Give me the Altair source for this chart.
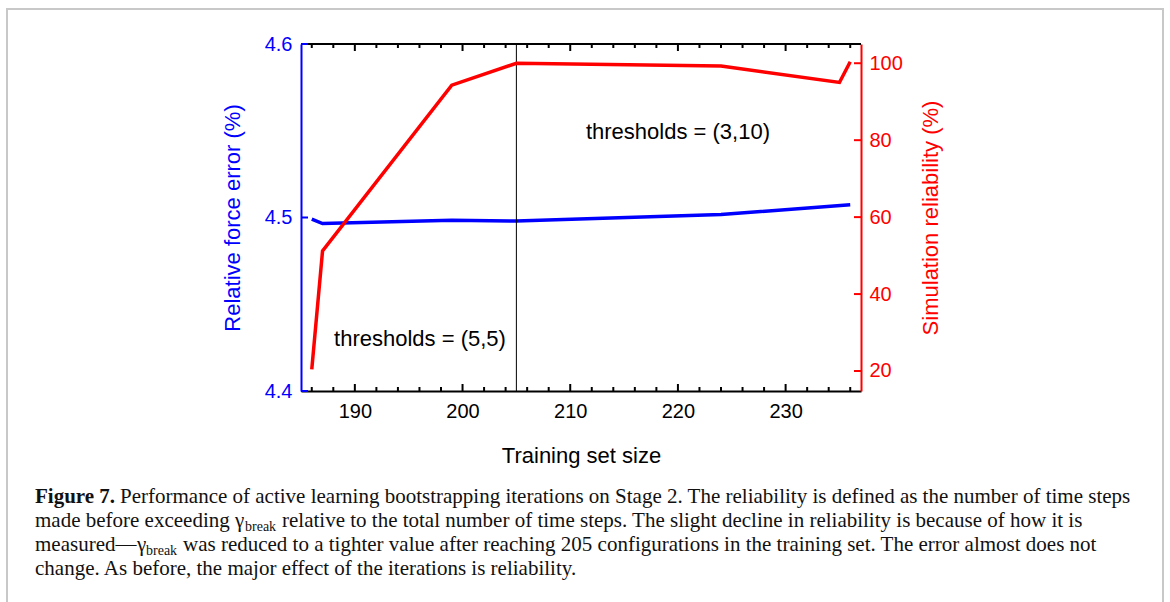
import altair as alt
import pandas as pd

# ---- data ----
train_blue = [186, 187, 199, 205, 224, 236]
force_err = [4.499, 4.4965, 4.4984, 4.498, 4.5017, 4.5073]
train_red = [186, 187, 199, 205, 224, 235, 236]
reliability = [20.4, 51.2, 94.3, 100.0, 99.3, 95.0, 100.4]

x_major = [190, 200, 210, 220, 230]
x_minor = [186, 188, 192, 194, 196, 198, 202, 204, 206, 208, 212, 214, 216, 218,
           222, 224, 226, 228, 232, 234, 236]
left_ticks = [4.4, 4.5, 4.6]
right_ticks = [20, 40, 60, 80, 100]
split_at = [205]

ann_text = ["thresholds = (3,10)", "thresholds = (5,5)"]
ann_x = [220.0, 196.05]
ann_y = [4.549, 4.430]

BLUE = "#0000ff"
RED = "#ff0000"
SANS = "Liberation Sans"
SERIF = "Liberation Serif"

W, H = 560, 347

xs = alt.Scale(domain=[185, 237], nice=False, zero=False)
yl = alt.Scale(domain=[4.4, 4.6], nice=False, zero=False)
yr = alt.Scale(domain=[14.8, 105], nice=False, zero=False)

x_axis = alt.Axis(
    values=x_major, ticks=False, grid=False, domainColor="black", domainWidth=2,
    labelFont=SANS, labelFontSize=20, labelColor="black", labelPadding=10,
    labelFlush=False, title="Training set size", titleFont=SANS, titleFontSize=22,
    titleFontWeight="normal", titleColor="black", titlePadding=24)
yl_axis = alt.Axis(
    values=left_ticks, format=".1f", ticks=False, grid=False, domainColor=BLUE,
    domainWidth=2, labelFont=SANS, labelFontSize=20, labelColor=BLUE, labelPadding=9,
    title="Relative force error (%)", titleFont=SANS, titleFontSize=22,
    titleFontWeight="normal", titleColor=BLUE, titlePadding=20)
yr_axis = alt.Axis(
    orient="right", values=right_ticks, ticks=False, grid=False, domainColor=RED,
    domainWidth=2, labelFont=SANS, labelFontSize=20, labelColor=RED, labelPadding=8,
    title="Simulation reliability (%)", titleFont=SANS, titleFontSize=22,
    titleFontWeight="normal", titleColor=RED, titlePadding=40, titleAngle=270)

def X(field="size"):
    return alt.X(f"{field}:Q", scale=xs, axis=x_axis, title="Training set size")

def YL(field):
    return alt.Y(f"{field}:Q", scale=yl, axis=yl_axis, title="Relative force error (%)")

def YR(field):
    return alt.Y(f"{field}:Q", scale=yr, axis=yr_axis, title="Simulation reliability (%)")

df_blue = pd.DataFrame({"size": train_blue, "err": force_err})
df_red = pd.DataFrame({"size": train_red, "rel": reliability})
one = pd.DataFrame({"a": [0]})

blue_line = alt.Chart(df_blue).mark_line(color=BLUE, strokeWidth=3.5).encode(
    x=X(), y=YL("err"))

major_df = pd.DataFrame({"size": x_major})
minor_df = pd.DataFrame({"size": x_minor})

def xticks(df, y0, y1):
    return alt.Chart(df).mark_rule(color="black", strokeWidth=2).encode(
        x=X(), y=alt.value(y0), y2=alt.value(y1))

ticks_x = [
    xticks(major_df, H, H - 7), xticks(minor_df, H, H - 4),
    xticks(major_df, 0, 7), xticks(minor_df, 0, 4),
]

top_border = alt.Chart(one).mark_rule(color="black", strokeWidth=2).encode(
    x=alt.value(0), x2=alt.value(W), y=alt.value(0))

left_tick_marks = alt.Chart(pd.DataFrame({"v": left_ticks})).mark_rule(
    color=BLUE, strokeWidth=2).encode(y=YL("v"), x=alt.value(0), x2=alt.value(7))

split_rule = alt.Chart(pd.DataFrame({"size": split_at})).mark_rule(
    color="black", strokeWidth=1).encode(x=X(), y=alt.value(0), y2=alt.value(H))

ann = alt.Chart(pd.DataFrame({"t": ann_text, "size": ann_x, "v": ann_y})).mark_text(
    font=SANS, fontSize=22, color="black", align="center", baseline="middle").encode(
    x=X(), y=YL("v"), text="t:N")

# ---- caption ----
cap_text = [
    "Figure 7.",
    "Performance of active learning bootstrapping iterations on Stage 2. The reliability is defined as the number of time steps",
    "made before exceeding",
    "\u03b3",
    "break",
    "relative to the total number of time steps. The slight decline in reliability is because of how it is",
    "measured\u2014",
    "\u03b3",
    "break",
    "was reduced to a tighter value after reaching 205 configurations in the training set. The error almost does not",
    "change. As before, the major effect of the iterations is reliability.",
]
cap_x = [-266, -181, -266, -66, -56, -19, -266, -164, -155, -118, -266]
cap_y = [459, 459, 483, 483, 487, 483, 507, 507, 511, 507, 531]
cap_size = [21, 21, 21, 21, 14, 21, 21, 21, 14, 21, 21]
cap_weight = ["bold"] + ["normal"] * 10

cap_layers = []
for t, cx, cy, cs, cw in zip(cap_text, cap_x, cap_y, cap_size, cap_weight):
    cap_layers.append(alt.Chart(one).mark_text(
        text=t, font=SERIF, fontSize=cs, fontWeight=cw, color="#111111",
        align="left", baseline="alphabetic").encode(x=alt.value(cx), y=alt.value(cy)))

frame = alt.Chart(one).mark_rect(fillOpacity=0, stroke="#c8c8c8", strokeWidth=2).encode(
    x=alt.value(-294), x2=alt.value(862), y=alt.value(-35), y2=alt.value(600))

blue_layer = alt.layer(blue_line, *ticks_x, top_border, left_tick_marks,
                       split_rule, ann, frame, *cap_layers)

red_line = alt.Chart(df_red).mark_line(color=RED, strokeWidth=3.5).encode(
    x=X(), y=YR("rel"))
right_tick_marks = alt.Chart(pd.DataFrame({"rel": right_ticks})).mark_rule(
    color=RED, strokeWidth=2).encode(y=YR("rel"), x=alt.value(W - 7), x2=alt.value(W))

red_layer = alt.layer(red_line, right_tick_marks)

chart = alt.layer(blue_layer, red_layer).resolve_scale(y="independent").properties(
    width=W, height=H, autosize="none",
    padding={"left": 301, "top": 44, "right": 309, "bottom": 211},
).configure_view(stroke=None)

chart.save("out.html", embed_options={"renderer": "svg", "actions": False})
